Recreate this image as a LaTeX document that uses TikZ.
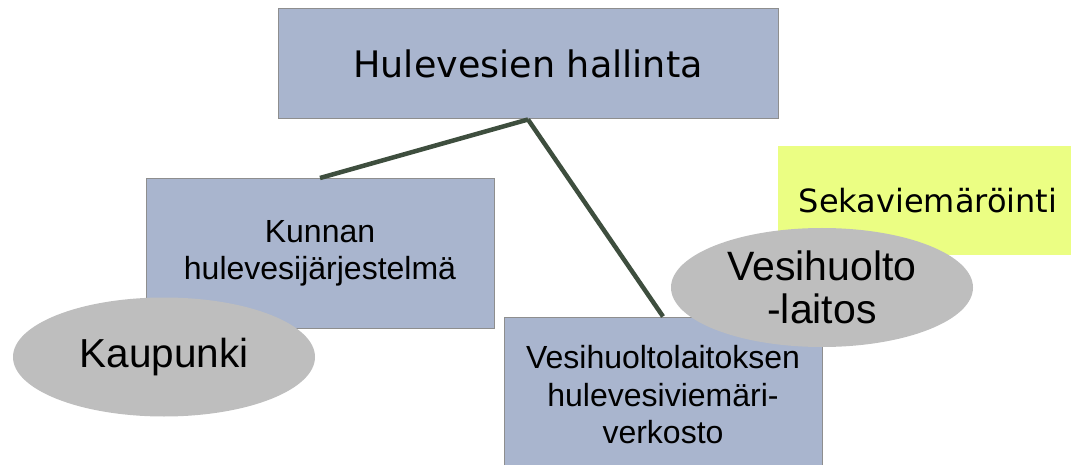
\documentclass[tikz,border=0pt]{standalone}
\usepackage{fontspec}
\setmainfont{Liberation Sans}
\newfontfamily\verdana{DejaVu Sans}
\usetikzlibrary{shapes.geometric}

\definecolor{boxblue}{HTML}{A9B5CE}
\definecolor{boxedge}{HTML}{8E8E8E}
\definecolor{ovalgray}{HTML}{BEBEBE}
\definecolor{seka}{HTML}{EBFE83}
\definecolor{linkgreen}{HTML}{3E4E3E}

\tikzset{
  unitbox/.style={rectangle, fill=boxblue, draw=boxedge, line width=1pt,
    inner sep=0pt, align=center},
  actor/.style={ellipse, fill=ovalgray, inner sep=0pt, align=center,
    minimum width=302pt, minimum height=119pt},
  link/.style={draw=linkgreen, line width=4.5pt}
}

\begin{document}
\begin{tikzpicture}[x=1pt, y=-1pt]
  \useasboundingbox (0,0) rectangle (1071,465);
  \node[unitbox, minimum width=500pt, minimum height=110pt,
    font=\verdana\fontsize{36.5}{42}\selectfont] (hallinta) at (528,64) {Hulevesien hallinta};
  \node[unitbox, minimum width=348pt, minimum height=150pt,
    font=\fontsize{32}{37}\selectfont] (kunta) at (320,253.5) {Kunnan\\hulevesijärjestelmä};
  \node[actor, font=\fontsize{40.5}{48}\selectfont] (kaupunki) at (164,357) {Kaupunki};
  \node[unitbox, minimum width=318pt, minimum height=156pt,
    font=\fontsize{32}{37.5}\selectfont] (verkosto) at (663,395) {Vesihuoltolaitoksen\\hulevesiviemäri-\\verkosto};
  \node[rectangle, fill=seka, minimum width=300pt, minimum height=109pt,
    inner sep=0pt, font=\verdana\fontsize{32}{38}\selectfont] (seka) at (928,200.5) {Sekaviemäröinti};
  \node[actor, font=\fontsize{41}{43}\selectfont] (laitos) at (822,287.5) {Vesihuolto\\-laitos};
  \draw[link] (hallinta.south) -- (kunta.north);
  \draw[link] (hallinta.south) -- (verkosto.north);
\end{tikzpicture}
\end{document}
